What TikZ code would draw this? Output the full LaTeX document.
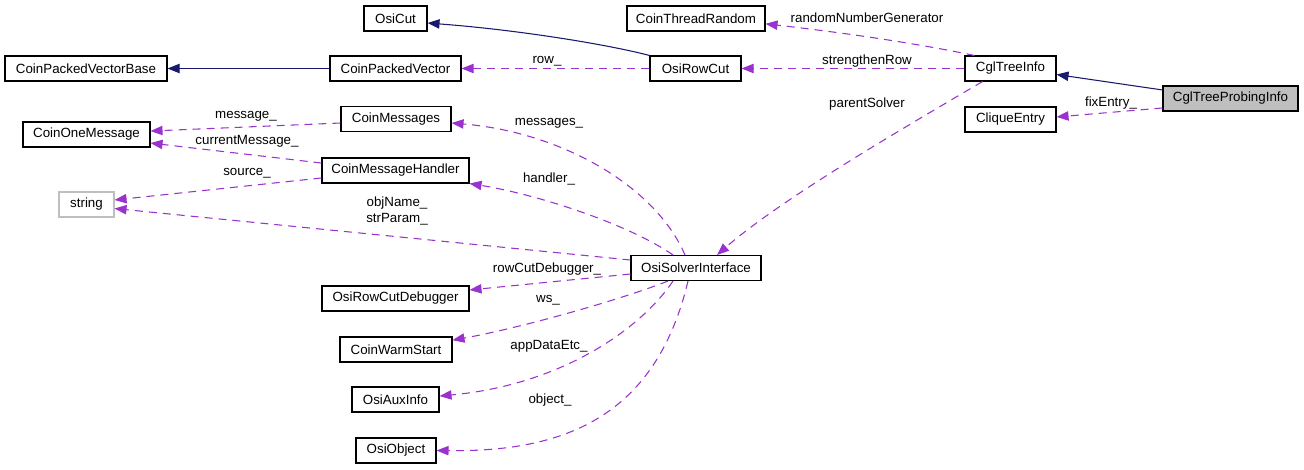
\documentclass[tikz,border=0pt]{standalone}
\usepackage{fontspec}
\setmainfont{Liberation Sans}
\usetikzlibrary{arrows.meta}

\definecolor{dkorchid}{HTML}{9A32CD}
\definecolor{midblue}{HTML}{191970}
\definecolor{boxgray}{HTML}{BFBFBF}

\tikzset{
  cls/.style={draw=black, line width=0.8pt, fill=white, inner sep=0pt, minimum height=18.75pt, font=\fontsize{10}{12}\selectfont},
  extcls/.style={cls, draw=boxgray},
  inherit/.style={midblue, line width=0.8pt, -{Triangle[length=9pt,width=7pt]}},
  member/.style={dkorchid, line width=0.8pt, dash pattern=on 6pt off 4.5pt, -{Triangle[length=9pt,width=7pt]}},
  lbl/.style={inner sep=0pt, align=center, font=\fontsize{10}{12}\selectfont},
}

\begin{document}
\begin{tikzpicture}[x=0.75pt,y=-0.75pt]
\useasboundingbox (0,0) rectangle (1304,469);

% classes
\node[cls, minimum width=47.25pt]  (osicut)   at (395.5,18.5) {OsiCut};
\node[cls, minimum width=103.5pt]  (thrand)   at (696,18.5)   {CoinThreadRandom};
\node[cls, minimum width=121.5pt]  (pvbase)   at (86,68.5)    {CoinPackedVectorBase};
\node[cls, minimum width=98.25pt]  (pvec)     at (395.5,68.5) {CoinPackedVector};
\node[cls, minimum width=68.25pt]  (rowcut)   at (695.5,68.5) {OsiRowCut};
\node[cls, minimum width=68.25pt]  (treeinfo) at (1010.5,68.5) {CglTreeInfo};
\node[cls, minimum width=101.25pt, fill=boxgray] (probe) at (1230.5,98.5) {CglTreeProbingInfo};
\node[cls, minimum width=68.25pt]  (clique)   at (1010.5,119.5) {CliqueEntry};
\node[cls, minimum width=82.5pt]   (msgs)     at (396,119)    {CoinMessages};
\node[cls, minimum width=95.25pt]  (onemsg)   at (86.5,134.5) {CoinOneMessage};
\node[cls, minimum width=110.25pt] (handler)  at (395.5,170.5) {CoinMessageHandler};
\node[extcls, minimum width=41.25pt] (str)    at (86.5,204.5) {string};
\node[cls, minimum width=97.5pt]   (solver)   at (696,268)    {OsiSolverInterface};
\node[cls, minimum width=110.25pt] (rcdebug)  at (395.5,298.5) {OsiRowCutDebugger};
\node[cls, minimum width=84pt]     (warm)     at (396,349.5)  {CoinWarmStart};
\node[cls, minimum width=65.25pt]  (aux)      at (395.5,399.5) {OsiAuxInfo};
\node[cls, minimum width=60pt]     (object)   at (396,450.5)  {OsiObject};

% inheritance
\draw[inherit] (pvec.west) -- (pvbase.east);
\draw[inherit] (rowcut.north west) .. controls (610,45) and (520,30) .. ([yshift=-3.4pt]osicut.east);
\draw[inherit] ([yshift=6.4pt]probe.west) -- ([yshift=-4.5pt]treeinfo.east);

% members
\draw[member] (rowcut.west) -- (pvec.east);
\draw[member] (treeinfo.west) -- (rowcut.east);
\draw[member] ([xshift=7.5pt]treeinfo.north west) .. controls (900,40) and (820,30) .. ([yshift=-4pt]thrand.east);
\draw[member] ([xshift=-21pt]treeinfo.south) .. controls (900,130) and (780,200) .. ([xshift=15.75pt]solver.north);
\draw[member] ([yshift=-7.1pt]probe.west) -- ([yshift=1.9pt]clique.east);
\draw[member] ([yshift=-3pt]msgs.west) -- ([yshift=2.6pt]onemsg.east);
\draw[member] ([yshift=5.6pt]handler.west) -- ([yshift=-6.4pt]onemsg.east);
\draw[member] ([yshift=-5.6pt]handler.west) -- ([yshift=3.4pt]str.east);
\draw[member] ([yshift=6pt]solver.west) -- ([yshift=-3pt]str.east);
\draw[member] ([xshift=-8.25pt]solver.north) .. controls (655,185) and (560,132) .. ([yshift=-3pt]msgs.east);
\draw[member] ([xshift=-17.25pt]solver.north) .. controls (630,225) and (540,195) .. (handler.south east);
\draw[member] ([yshift=-4.5pt]solver.west) -- ([yshift=6.4pt]rcdebug.east);
\draw[member] ([xshift=-21pt]solver.south) .. controls (620,300) and (520,328) .. ([yshift=7pt]warm.east);
\draw[member] ([xshift=-17.25pt]solver.south) .. controls (640,330) and (560,385) .. ([yshift=2.6pt]aux.east);
\draw[member] ([xshift=-6pt]solver.south) .. controls (655,420) and (560,452) .. (object.east);

% labels
\node[lbl] (lrng)    at (867,18)  {randomNumberGenerator};
\node[lbl] (lrow)    at (547,61)  {row\_};
\node[lbl] (lstr)    at (867,61)  {strengthenRow};
\node[lbl] (lparent) at (867,104) {parentSolver};
\node[lbl] (lfix)    at (1111,103) {fixEntry\_};
\node[lbl] (lmsg)    at (246,116) {message\_};
\node[lbl] (lcur)    at (247,141) {currentMessage\_};
\node[lbl] (lsrc)    at (247,173) {source\_};
\node[lbl] (lmsgs)   at (549,123) {messages\_};
\node[lbl] (lhand)   at (549,179) {handler\_};
\node[lbl] (lname)   at (397,211) {objName\_\\strParam\_};
\node[lbl] (lrcd)    at (547,269) {rowCutDebugger\_};
\node[lbl] (lws)     at (548,300) {ws\_};
\node[lbl] (lapp)    at (549,346) {appDataEtc\_};
\node[lbl] (lobj)    at (550,400) {object\_};

\end{tikzpicture}
\end{document}
